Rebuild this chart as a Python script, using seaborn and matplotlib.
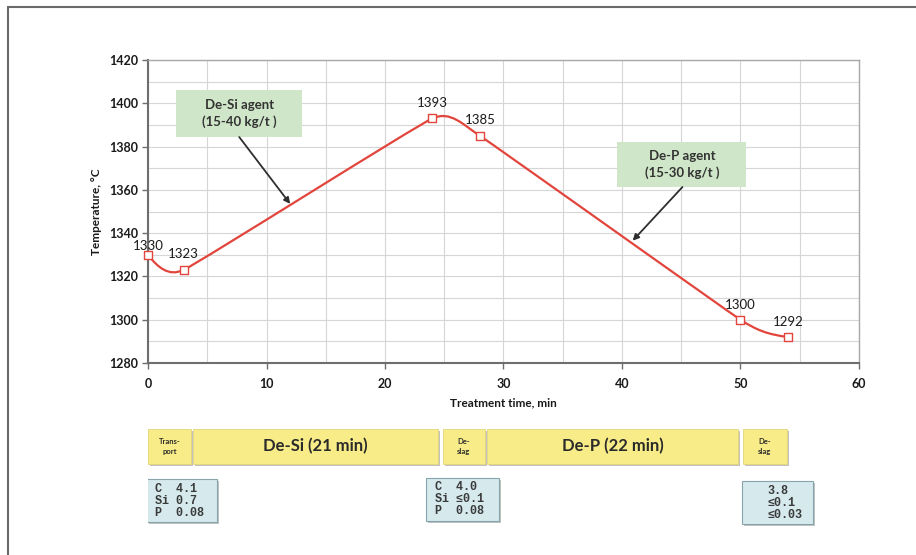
import numpy as np
import matplotlib
matplotlib.use("Agg")
import matplotlib.pyplot as plt
import matplotlib.patheffects as pe
from matplotlib.path import Path
from matplotlib.patches import PathPatch, Rectangle
import seaborn as sns

# data
time_min = [0, 3, 24, 28, 50, 54]
temperature = [1330, 1323, 1393, 1385, 1300, 1292]

stage_labels = ["Trans-\nport", "De-Si (21 min)", "De-\nslag", "De-P (22 min)", "De-\nslag"]
chem_start = "C  4.1\nSi 0.7\nP  0.08"
chem_mid = "C  4.0\nSi \u22640.1\nP  0.08"
chem_end = "3.8\n\u22640.1\n\u22640.03"
agent_desi = "De-Si agent\n(15-40 kg/t )"
agent_dep = "De-P agent\n(15-30 kg/t )"

sns.set_theme(style="white")
plt.rcParams['font.family'] = ['Lato', 'DejaVu Sans']

line_color = "#e2453c"
text_color = "#1a1a1a"

fig = plt.figure(figsize=(9.16, 5.55), dpi=100)
W, H = 916, 555
ax = fig.add_axes([148 / W, 1 - 363 / H, 711 / W, 303 / H])
ax.set_xlim(0, 60)
ax.set_ylim(1280, 1420)


def smooth_path(xs, ys, k=0.42, cap=20):
    # Excel style smoothed line: bezier segments, tangents worked out in screen space
    sx, sy = 711 / 60, 303 / 140
    p = np.column_stack([np.asarray(xs, float) * sx, np.asarray(ys, float) * sy])
    n = len(p)
    d = np.zeros_like(p)
    for i in range(1, n - 1):
        v = p[i + 1] - p[i - 1]
        d[i] = v / np.linalg.norm(v)
    u0 = (p[1] - p[0]) / np.linalg.norm(p[1] - p[0])
    v0 = 2 * u0 - d[1]
    d[0] = v0 / np.linalg.norm(v0)
    un = (p[-1] - p[-2]) / np.linalg.norm(p[-1] - p[-2])
    vn = 2 * un - d[-2]
    d[-1] = vn / np.linalg.norm(vn)
    verts = [p[0]]
    codes = [Path.MOVETO]
    for i in range(n - 1):
        L = min(np.linalg.norm(p[i + 1] - p[i]) * k, cap)
        verts += [p[i] + d[i] * L, p[i + 1] - d[i + 1] * L, p[i + 1]]
        codes += [Path.CURVE4] * 3
    verts = np.array(verts) / [sx, sy]
    return Path(verts, codes)


ax.add_patch(PathPatch(smooth_path(time_min, temperature), fill=False,
                       edgecolor=line_color, lw=1.6, zorder=3))
sns.scatterplot(x=time_min, y=temperature, marker="s", s=32, color="white",
                edgecolor=line_color, linewidth=1.0, zorder=4, ax=ax, clip_on=False)

# point labels
label_offsets = [6.5, 11.5, 11, 11, 10.5, 11]
for x, y, off in zip(time_min, temperature, label_offsets):
    ax.annotate(str(y), (x, y), xytext=(0, off), textcoords="offset points",
                ha="center", va="center", fontsize=9.5, color=text_color, zorder=5)

# grid and axes
ax.set_xticks(range(0, 61, 10))
ax.set_xticks(range(0, 61, 5), minor=True)
ax.set_yticks(range(1280, 1421, 20))
ax.set_yticks(range(1280, 1421, 10), minor=True)
ax.grid(which="both", color="#d6d6d6", lw=0.8)
ax.set_axisbelow(True)
for s in ["left", "bottom"]:
    ax.spines[s].set_color("#6e6e6e")
    ax.spines[s].set_linewidth(1.5)
for s in ["top", "right"]:
    ax.spines[s].set_color("#a8a8a8")
    ax.spines[s].set_linewidth(1.0)
ax.tick_params(which="major", direction="out", length=4, width=1, color="#6e6e6e",
               labelsize=9, labelcolor=text_color, left=True, bottom=True, pad=3)
ax.tick_params(which="minor", length=0)
ax.tick_params(axis="x", pad=7)
for lab in ax.get_xticklabels() + ax.get_yticklabels():
    lab.set_fontweight("bold")
ax.set_xlabel("Treatment time, min", fontsize=8.5, fontweight="bold", color=text_color, labelpad=5)
ax.set_ylabel("Temperature, \u00b0C", fontsize=8.5, fontweight="bold", color=text_color, labelpad=5)

# agent boxes with arrows
green = "#cfe6c8"
ax.add_patch(Rectangle((2.36, 1384.4), 13.0 - 2.36, 1406.1 - 1384.4, facecolor=green,
                       edgecolor="none", zorder=5))
ax.text(7.7, 1395.3, agent_desi, ha="center", va="center", fontsize=9.5,
        fontweight="bold", color="#333333", zorder=6, linespacing=1.35)
ax.annotate("", xy=(12.0, 1353.5), xytext=(7.7, 1384.4),
            arrowprops=dict(arrowstyle="-|>", color="#2e2e2e", lw=1.3,
                            mutation_scale=9, shrinkA=0, shrinkB=0), zorder=6)
ax.add_patch(Rectangle((39.6, 1361.3), 50.5 - 39.6, 1382.1 - 1361.3, facecolor=green,
                       edgecolor="none", zorder=5))
ax.text(45.05, 1371.7, agent_dep, ha="center", va="center", fontsize=9.5,
        fontweight="bold", color="#333333", zorder=6, linespacing=1.35)
ax.annotate("", xy=(40.9, 1336.5), xytext=(45.1, 1361.3),
            arrowprops=dict(arrowstyle="-|>", color="#2e2e2e", lw=1.3,
                            mutation_scale=9, shrinkA=0, shrinkB=0), zorder=6)

# stage bars under the chart, same time axis, y in pixels
ax2 = fig.add_axes([148 / W, 0, 711 / W, 1])
ax2.set_xlim(0, 60)
ax2.set_ylim(H, 0)
ax2.axis("off")

shadow = [pe.SimplePatchShadow(offset=(1.5, -1.5), shadow_rgbFace="#9a9a9a", alpha=0.6), pe.Normal()]
stage_spans = [(0, 3.65), (3.8, 24.5), (24.9, 28.4), (28.6, 49.8), (50.2, 53.9)]
stage_sizes = [5.5, 12, 5.5, 12, 5.5]
for (x0, x1), lab, fs in zip(stage_spans, stage_labels, stage_sizes):
    r = Rectangle((x0, 429), x1 - x0, 35, facecolor="#f7ec88", edgecolor="#e2d57a",
                  lw=0.6, zorder=2)
    r.set_path_effects(shadow)
    ax2.add_patch(r)
    ax2.text((x0 + x1) / 2, 446.5, lab, ha="center", va="center", fontsize=fs,
             fontweight="bold", color="#2a2a2a", zorder=3, linespacing=1.4)

chem_boxes = [((-0.05, 5.8), 479, chem_start, 0.6), ((23.45, 29.6), 478, chem_mid, 24.2),
              ((50.1, 56.1), 481, chem_end, 52.3)]
for (x0, x1), ytop, txt, tx in chem_boxes:
    r = Rectangle((x0, ytop), x1 - x0, 43, facecolor="#d6eaee", edgecolor="#88a4ab",
                  lw=0.8, zorder=2)
    r.set_path_effects(shadow)
    ax2.add_patch(r)
    ax2.text(tx, ytop + 21.5, txt, ha="left", va="center", fontsize=8.5,
             family=["Liberation Mono", "DejaVu Sans Mono"], fontweight="bold",
             color="#3a3a3a", zorder=3, linespacing=1.0)

# outer frame (cut off at the right and bottom)
fig.add_artist(plt.Line2D([8 / W, 8 / W], [0, 1 - 7 / H], transform=fig.transFigure,
                          color="#6a6a6a", lw=1.5))
fig.add_artist(plt.Line2D([8 / W, 1], [1 - 7 / H, 1 - 7 / H], transform=fig.transFigure,
                          color="#6a6a6a", lw=1.5))

fig.savefig("out.png", dpi=100)
